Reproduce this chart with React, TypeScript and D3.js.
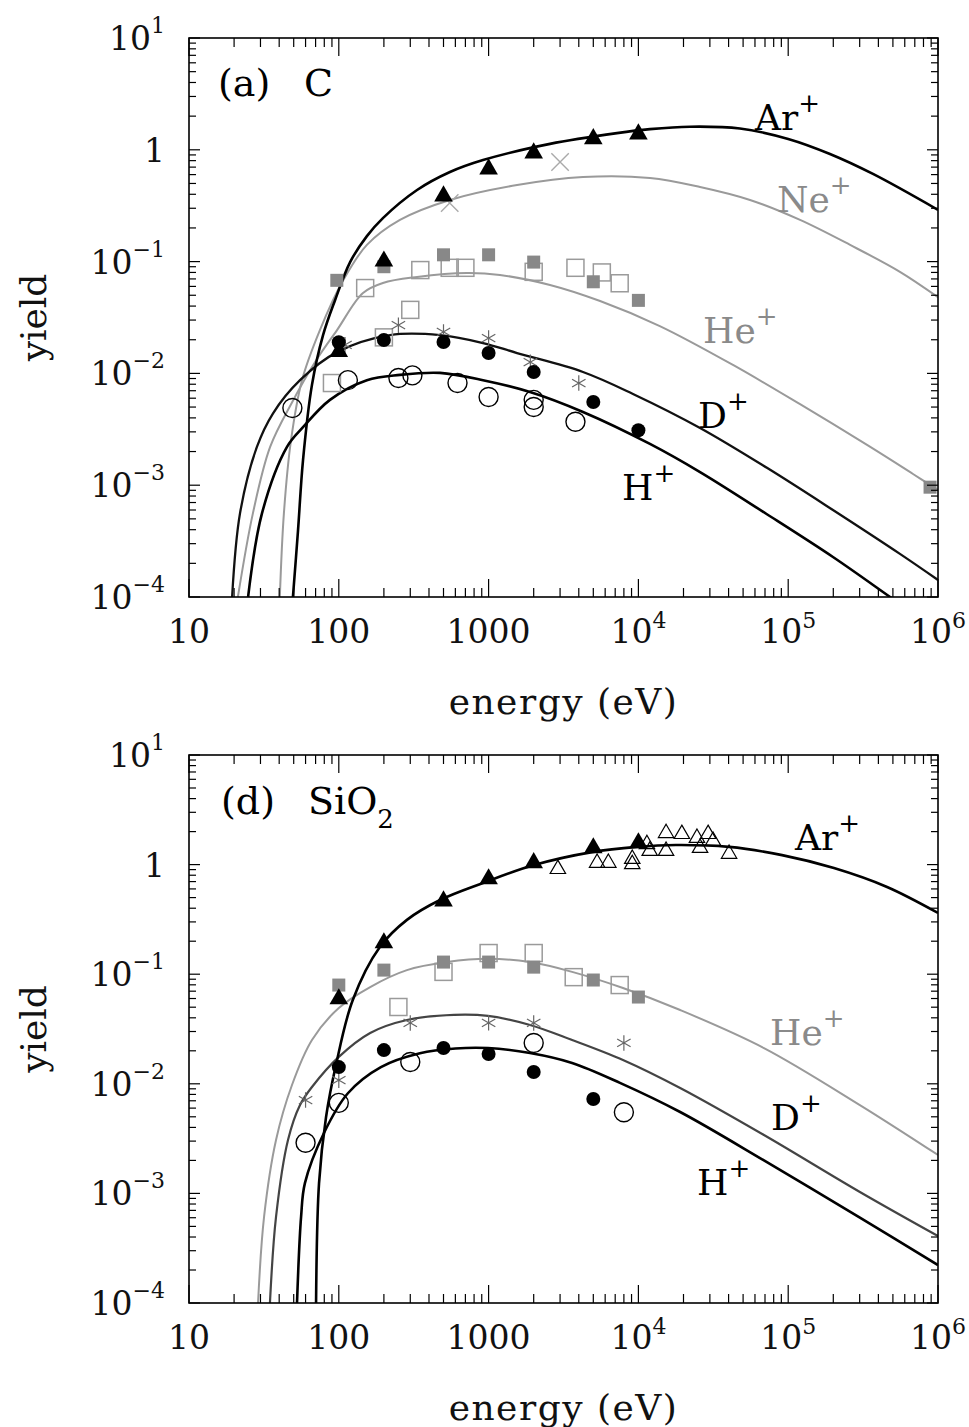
import React from "react";
import * as d3 from "d3";

type Pt = [number, number];

// ---------- x / y tick labels ----------
const xTickValues = [10, 100, 1000, 1e4, 1e5, 1e6];
const xTickLabels: [string, string][] = [["10", ""], ["100", ""], ["1000", ""], ["10", "4"], ["10", "5"], ["10", "6"]];
const yTickValues = [10, 1, 0.1, 0.01, 0.001, 0.0001];
const yTickLabels: [string, string][] = [["10", "1"], ["1", ""], ["10", "\u22121"], ["10", "\u22122"], ["10", "\u22123"], ["10", "\u22124"]];

// ---------- panel (a) C : curves [energy eV, yield] ----------
const topArCurve: Pt[] = [[49.4, 1e-4], [53.4, 3.9e-4], [57.7, 1.68e-3], [66.2, 7.9e-3], [78.5, 0.022], [94.5, 0.0454], [119, 0.099], [154, 0.169], [197, 0.245], [333, 0.437], [552, 0.633], [918, 0.81], [2570, 1.13], [7190, 1.41], [11940, 1.53], [22100, 1.61], [47600, 1.55], [1e5, 1.25], [190000, 0.917], [368000, 0.608], [1e6, 0.29]];
const topNeCurve: Pt[] = [[40.4, 1e-4], [43.0, 5.6e-4], [48.0, 2.54e-3], [56.8, 8.7e-3], [74.8, 0.0244], [107, 0.068], [154, 0.141], [256, 0.236], [552, 0.356], [1549, 0.484], [4266, 0.571], [11940, 0.56], [25800, 0.465], [55600, 0.356], [120000, 0.236], [259000, 0.141], [557000, 0.081], [1e6, 0.048]];
const topHeCurve: Pt[] = [[21.2, 1e-4], [26.7, 5.6e-4], [34.8, 2.2e-3], [48.7, 5.5e-3], [69.3, 0.0126], [97.3, 0.0244], [145, 0.0524], [197, 0.0644], [333, 0.0728], [717, 0.079], [1190, 0.0759], [2570, 0.0618], [5550, 0.0444], [13900, 0.0265], [42800, 0.0119], [120000, 5.3e-3], [336000, 2.29e-3], [681000, 1.26e-3], [1e6, 9.06e-4]];
const topDCurve: Pt[] = [[19.4, 1e-4], [21.9, 5.6e-4], [28.4, 2.2e-3], [36.4, 4.4e-3], [55.1, 8.7e-3], [97.3, 0.0155], [220, 0.022], [474, 0.022], [918, 0.0187], [1549, 0.0152], [4266, 0.0103], [9200, 6.55e-3], [25800, 3.25e-3], [72100, 1.43e-3], [199000, 6.0e-4], [557000, 2.43e-4], [1e6, 1.42e-4]];
const topHCurve: Pt[] = [[24.8, 1e-4], [30.7, 5.6e-4], [45.1, 2.2e-3], [57.7, 3.3e-3], [87.3, 5.8e-3], [154, 8.7e-3], [256, 9.7e-3], [474, 0.0101], [918, 8.7e-3], [1890, 6.82e-3], [4266, 4.52e-3], [11940, 2.34e-3], [25800, 1.31e-3], [72100, 5.5e-4], [199000, 2.28e-4], [479000, 1e-4], [1e6, 4.97e-5]];

// ---------- panel (a) C : measured points ----------
const topArTri: Pt[] = [[100, 0.016], [200, 0.103], [500, 0.394], [1000, 0.687], [2000, 0.955], [5000, 1.28], [10000, 1.41]];
const topNeCross: Pt[] = [[550, 0.334], [3000, 0.778]];
const topHeFilledSq: Pt[] = [[97, 0.068], [200, 0.09], [500, 0.115], [1000, 0.115], [2000, 0.099], [5000, 0.066], [10000, 0.045], [885000, 9.6e-4]];
const topHeOpenSq: Pt[] = [[90, 8.2e-3], [150, 0.058], [200, 0.021], [300, 0.037], [350, 0.084], [550, 0.088], [700, 0.088], [2000, 0.081], [3800, 0.088], [5700, 0.08], [7500, 0.064]];
const topDStar: Pt[] = [[110, 0.018], [250, 0.027], [500, 0.0235], [1000, 0.0207], [1900, 0.0126], [4000, 0.0082]];
const topDDot: Pt[] = [[100, 0.019], [200, 0.0199], [500, 0.0191], [1000, 0.0152], [2000, 0.0103], [5000, 0.00555], [10000, 0.0031]];
const topHRing: Pt[] = [[49, 0.0049], [115, 0.0087], [250, 0.0091], [310, 0.0096], [620, 0.0082], [1000, 0.00615], [2000, 0.0058], [2000, 0.005], [3800, 0.0037]];

// ---------- panel (d) SiO2 : curves ----------
const botArCurve: Pt[] = [[70.5, 1e-4], [73.8, 1.24e-3], [82.2, 4.98e-3], [95.8, 0.0149], [124, 0.0582], [188, 0.177], [285, 0.313], [474, 0.475], [918, 0.68], [2010, 0.99], [4900, 1.3], [9790, 1.45], [17800, 1.51], [40300, 1.45], [91000, 1.22], [202000, 0.93], [457000, 0.625], [1e6, 0.362]];
const botHeCurve: Pt[] = [[28.9, 1e-4], [31.7, 6.1e-4], [38.1, 3.07e-3], [48.7, 9.75e-3], [66.2, 0.0251], [100, 0.0492], [162, 0.0764], [285, 0.109], [527, 0.129], [991, 0.138], [1890, 0.129], [3610, 0.105], [7890, 0.0748], [19000, 0.0471], [68900, 0.0212], [301000, 6.4e-3], [1e6, 2.24e-3]];
const botDCurve: Pt[] = [[34.7, 1e-4], [38.1, 6.1e-4], [45.8, 3.07e-3], [55.1, 6.4e-3], [66.2, 9.35e-3], [100, 0.0176], [162, 0.0291], [285, 0.0382], [588, 0.0425], [991, 0.0416], [1890, 0.0344], [3610, 0.0251], [7890, 0.0165], [19000, 9.16e-3], [68900, 3.41e-3], [301000, 1.03e-3], [1e6, 4.08e-4]];
const botHCurve: Pt[] = [[52.6, 1e-4], [56, 6.1e-4], [59.4, 1.24e-3], [79.6, 3.56e-3], [115, 8.2e-3], [191, 0.0142], [348, 0.019], [600, 0.021], [991, 0.0212], [1890, 0.0191], [3610, 0.0155], [7530, 0.0102], [19000, 5.53e-3], [68900, 2.0e-3], [301000, 6.0e-4], [1e6, 2.22e-4]];

// ---------- panel (d) SiO2 : measured points ----------
const botArTri: Pt[] = [[100, 0.0607], [200, 0.197], [500, 0.475], [1000, 0.755], [2000, 1.06], [5000, 1.45], [10000, 1.61]];
const botArOpenTri: Pt[] = [[2900, 0.93], [5300, 1.06], [6300, 1.06], [9100, 1.15], [9100, 1.03], [11400, 1.57], [11900, 1.36], [15300, 1.98], [15300, 1.36], [19500, 1.94], [24600, 1.79], [25800, 1.45], [29200, 1.94], [31500, 1.68], [40300, 1.28]];
const botHeFilledSq: Pt[] = [[100, 0.0796], [200, 0.109], [500, 0.129], [1000, 0.129], [2000, 0.116], [5000, 0.0885], [10000, 0.0619]];
const botHeOpenSq: Pt[] = [[250, 0.0502], [500, 0.105], [1000, 0.156], [2000, 0.156], [3700, 0.094], [7500, 0.0796]];
const botDStar: Pt[] = [[60, 7.1e-3], [100, 0.0108], [300, 0.0359], [1000, 0.036], [2000, 0.0359], [8000, 0.0236]];
const botDDot: Pt[] = [[100, 0.0142], [200, 0.0203], [500, 0.0212], [1000, 0.0187], [2000, 0.0128], [5000, 0.00726]];
const botHRing: Pt[] = [[60, 2.9e-3], [100, 6.7e-3], [300, 0.0158], [2000, 0.0236], [8000, 5.5e-3]];

const FONT = "'DejaVu Serif', serif";
const GRAY_LINE = "#9a9a9a";
const GRAY_TEXT = "#8a8a8a";
const X0 = 189;
const X1 = 938;

type Curve = { data: Pt[]; color: string; width: number };
type MarkerSet = { data: Pt[]; kind: string };
type Label = { text: string; x: number; y: number; color: string };

const sym = (type: d3.SymbolType, size: number) => d3.symbol().type(type).size(size)() as string;

function Marker({ kind, cx, cy }: { kind: string; cx: number; cy: number }) {
  const t = `translate(${cx},${cy})`;
  switch (kind) {
    case "triFilled":
      return <path transform={`translate(${cx},${cy + 1})`} d={sym(d3.symbolTriangle, 150)} fill="#000" />;
    case "triOpen":
      return <path transform={`translate(${cx},${cy + 1})`} d={sym(d3.symbolTriangle2, 170)} fill="none" stroke="#000" strokeWidth={1.2} />;
    case "dot":
      return <circle cx={cx} cy={cy} r={7} fill="#000" />;
    case "ring":
      return <circle cx={cx} cy={cy} r={9.5} fill="none" stroke="#000" strokeWidth={1.4} />;
    case "sqFilled":
      return <rect x={cx - 6.5} y={cy - 6.5} width={13} height={13} fill="#888" />;
    case "sqOpen":
      return <rect x={cx - 8.5} y={cy - 8.5} width={17} height={17} fill="none" stroke="#9a9a9a" strokeWidth={1.5} />;
    case "star":
      return <path transform={t} d={sym(d3.symbolAsterisk, 170)} fill="none" stroke="#666" strokeWidth={1.2} />;
    case "cross":
      return <path transform={t} d={sym(d3.symbolTimes, 200)} fill="none" stroke="#aaa" strokeWidth={1.4} />;
    default:
      return null;
  }
}

function SupLabel({ lab }: { lab: Label }) {
  return (
    <text x={lab.x} y={lab.y} fontFamily={FONT} fontSize={36} fill={lab.color}>
      {lab.text}
      <tspan dy={-18} fontSize={26}>+</tspan>
    </text>
  );
}

function Panel({ id, top, bottom, curves, markers, labels, title }: {
  id: string; top: number; bottom: number; curves: Curve[]; markers: MarkerSet[]; labels: Label[]; title: React.ReactNode;
}) {
  const x = d3.scaleLog().domain([10, 1e6]).range([X0, X1]);
  const y = d3.scaleLog().domain([1e-4, 10]).range([bottom, top]);
  const line = d3.line<Pt>().x((d) => x(d[0])).y((d) => y(d[1])).curve(d3.curveCatmullRom.alpha(0.5));
  const isMajor = (v: number) => Math.abs(Math.log10(v) - Math.round(Math.log10(v))) < 1e-6;
  const xt = x.ticks();
  const yt = y.ticks();
  const midY = (top + bottom) / 2;
  return (
    <g>
      <defs>
        <clipPath id={id}>
          <rect x={X0} y={top} width={X1 - X0} height={bottom - top} />
        </clipPath>
      </defs>
      <g clipPath={`url(#${id})`}>
        {curves.map((c, i) => (
          <path key={i} d={line(c.data) as string} fill="none" stroke={c.color} strokeWidth={c.width} strokeLinejoin="round" />
        ))}
        {markers.map((m, i) =>
          m.data.map((d, j) => <Marker key={`${i}-${j}`} kind={m.kind} cx={x(d[0])} cy={y(d[1])} />)
        )}
      </g>
      <rect x={X0} y={top} width={X1 - X0} height={bottom - top} fill="none" stroke="#000" strokeWidth={1.6} />
      {xt.map((v, i) => {
        const L = isMajor(v) ? 18 : 9;
        const px = x(v);
        return (
          <g key={`xt${i}`} stroke="#000" strokeWidth={1.2}>
            <line x1={px} x2={px} y1={bottom} y2={bottom - L} />
            <line x1={px} x2={px} y1={top} y2={top + L} />
          </g>
        );
      })}
      {yt.map((v, i) => {
        const L = isMajor(v) ? 11 : 7;
        const py = y(v);
        return (
          <g key={`yt${i}`} stroke="#000" strokeWidth={1.2}>
            <line x1={X0} x2={X0 + L} y1={py} y2={py} />
            <line x1={X1} x2={X1 - L} y1={py} y2={py} />
          </g>
        );
      })}
      {xTickValues.map((v, i) => (
        <text key={`xl${i}`} x={x(v)} y={bottom + 46} textAnchor="middle" fontFamily={FONT} fontSize={33} fill="#111">
          {xTickLabels[i][0]}
          {xTickLabels[i][1] ? <tspan dy={-15} fontSize={22}>{xTickLabels[i][1]}</tspan> : null}
        </text>
      ))}
      {yTickValues.map((v, i) => (
        <text key={`yl${i}`} x={165} y={y(v) + 12} textAnchor="end" fontFamily={FONT} fontSize={33} fill="#111">
          {yTickLabels[i][0]}
          {yTickLabels[i][1] ? <tspan dy={-17} fontSize={22}>{yTickLabels[i][1]}</tspan> : null}
        </text>
      ))}
      <text x={(X0 + X1) / 2} y={bottom + 117} textAnchor="middle" fontFamily={FONT} fontSize={36} letterSpacing={1.5} fill="#111">
        energy (eV)
      </text>
      <text transform={`translate(46,${midY}) rotate(-90)`} textAnchor="middle" fontFamily={FONT} fontSize={36} fill="#111">
        yield
      </text>
      {labels.map((l, i) => <SupLabel key={`lb${i}`} lab={l} />)}
      {title}
    </g>
  );
}

export default function App() {
  const topCurves: Curve[] = [
    { data: topNeCurve, color: GRAY_LINE, width: 2 },
    { data: topHeCurve, color: GRAY_LINE, width: 2 },
    { data: topDCurve, color: "#111", width: 2.3 },
    { data: topHCurve, color: "#000", width: 2.6 },
    { data: topArCurve, color: "#000", width: 2.6 },
  ];
  const topMarkers: MarkerSet[] = [
    { data: topHeOpenSq, kind: "sqOpen" },
    { data: topHeFilledSq, kind: "sqFilled" },
    { data: topNeCross, kind: "cross" },
    { data: topDStar, kind: "star" },
    { data: topHRing, kind: "ring" },
    { data: topDDot, kind: "dot" },
    { data: topArTri, kind: "triFilled" },
  ];
  const topLabels: Label[] = [
    { text: "Ar", x: 755, y: 130, color: "#000" },
    { text: "Ne", x: 777, y: 212, color: GRAY_TEXT },
    { text: "He", x: 703, y: 343, color: GRAY_TEXT },
    { text: "D", x: 698, y: 428, color: "#000" },
    { text: "H", x: 622, y: 500, color: "#000" },
  ];
  const botCurves: Curve[] = [
    { data: botHeCurve, color: GRAY_LINE, width: 2 },
    { data: botDCurve, color: "#444", width: 2.2 },
    { data: botHCurve, color: "#000", width: 2.6 },
    { data: botArCurve, color: "#000", width: 2.6 },
  ];
  const botMarkers: MarkerSet[] = [
    { data: botHeOpenSq, kind: "sqOpen" },
    { data: botHeFilledSq, kind: "sqFilled" },
    { data: botDStar, kind: "star" },
    { data: botHRing, kind: "ring" },
    { data: botDDot, kind: "dot" },
    { data: botArOpenTri, kind: "triOpen" },
    { data: botArTri, kind: "triFilled" },
  ];
  const botLabels: Label[] = [
    { text: "Ar", x: 795, y: 850, color: "#000" },
    { text: "He", x: 770, y: 1045, color: GRAY_TEXT },
    { text: "D", x: 771, y: 1130, color: "#000" },
    { text: "H", x: 697, y: 1195, color: "#000" },
  ];
  const topTitle = (
    <g fontFamily={FONT} fontSize={38} fill="#000">
      <text x={218} y={96}>(a)</text>
      <text x={304} y={96}>C</text>
    </g>
  );
  const botTitle = (
    <g fontFamily={FONT} fontSize={38} fill="#000">
      <text x={221} y={814}>(d)</text>
      <text x={308} y={814}>
        SiO<tspan dy={14} fontSize={26}>2</tspan>
      </text>
    </g>
  );
  return (
    <div style={{ position: "absolute", left: 0, top: 0, width: 969, height: 1427, overflow: "hidden", background: "#fff" }}>
      <svg width={969} height={1427} viewBox="0 0 969 1427" style={{ display: "block" }}>
        <rect x={0} y={0} width={969} height={1427} fill="#fff" />
        <Panel id="clipTop" top={38} bottom={597} curves={topCurves} markers={topMarkers} labels={topLabels} title={topTitle} />
        <Panel id="clipBot" top={755} bottom={1303} curves={botCurves} markers={botMarkers} labels={botLabels} title={botTitle} />
      </svg>
    </div>
  );
}
